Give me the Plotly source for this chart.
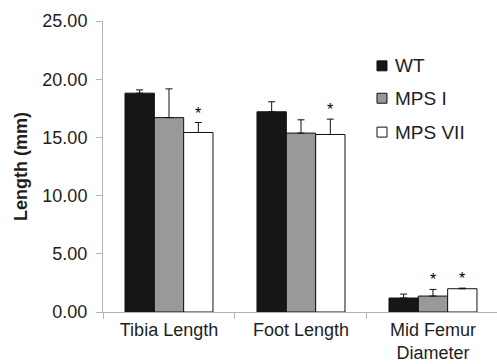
import plotly.graph_objects as go

categories = ["Tibia Length", "Foot Length", "Mid Femur<br>Diameter"]
groups = ["WT", "MPS I", "MPS VII"]
means = {
    "WT": [18.80, 17.20, 1.20],
    "MPS I": [16.70, 15.37, 1.37],
    "MPS VII": [15.42, 15.25, 2.00],
}
errors = {
    "WT": [0.28, 0.86, 0.34],
    "MPS I": [2.47, 1.14, 0.57],
    "MPS VII": [0.86, 1.32, 0.05],
}
# significance markers (group, category index)
significant = [("MPS VII", 0), ("MPS VII", 1), ("MPS I", 2), ("MPS VII", 2)]
y_ticks = [0, 5, 10, 15, 20, 25]

fills = {"WT": "#161616", "MPS I": "#999999", "MPS VII": "#ffffff"}
FONT = "Liberation Sans, Arial, sans-serif"
TEXT = "#1e1e1e"
AXIS_GREY = "#b4b4b4"
BARGAP = 1 / 3

fig = go.Figure()
for g in groups:
    fig.add_trace(go.Bar(
        name=g, x=categories, y=means[g], showlegend=False,
        marker=dict(color=fills[g], line=dict(color="#111111", width=1)),
        error_y=dict(type="data", symmetric=False, array=errors[g],
                     arrayminus=[0] * len(errors[g]), visible=True,
                     color="#111111", thickness=1, width=3.5),
    ))

# asterisks above the flagged bars
bar_w = (1 - BARGAP) / len(groups)
for g, ci in significant:
    gi = groups.index(g)
    xpos = ci + (gi - (len(groups) - 1) / 2) * bar_w
    fig.add_annotation(
        x=xpos, y=means[g][ci] + errors[g][ci], xref="x", yref="y",
        text="*", showarrow=False, yanchor="bottom", yshift=-1,
        font=dict(family=FONT, size=16, color="#000000"),
    )

# legend: small outlined squares with labels, stacked top-down
leg_x0, leg_x1, leg_tx = 0.6954, 0.7208, 0.736
leg_y = [0.8459, 0.7346, 0.6182]
half = 0.0171
for g, yc in zip(groups, leg_y):
    fig.add_shape(type="rect", xref="paper", yref="paper",
                  x0=leg_x0, x1=leg_x1, y0=yc - half, y1=yc + half,
                  fillcolor=fills[g], line=dict(color="#111111", width=1))
    fig.add_annotation(x=leg_tx, y=yc, xref="paper", yref="paper",
                       text=g, showarrow=False, xanchor="left",
                       yanchor="middle",
                       font=dict(family=FONT, size=19, color=TEXT))

fig.update_layout(
    width=497, height=364,
    margin=dict(l=103, r=0, t=21, b=52),
    paper_bgcolor="white", plot_bgcolor="white",
    barmode="group", bargap=BARGAP, bargroupgap=0,
    font=dict(family=FONT, size=18, color=TEXT),
    showlegend=False,
)
fig.update_xaxes(
    type="category", range=[-0.5, 2.5 - 0.015], automargin=False,
    showline=True, linecolor=AXIS_GREY, linewidth=1,
    ticks="outside", tickson="boundaries", ticklen=6, tickcolor=AXIS_GREY,
    tickfont=dict(family=FONT, size=18, color=TEXT),
    ticklabelstandoff=1,
    showgrid=False, zeroline=False,
)
fig.update_yaxes(
    range=[0, 25], tickvals=y_ticks, tickformat=".2f", automargin=False,
    showline=True, linecolor=AXIS_GREY, linewidth=1,
    ticks="outside", ticklen=6, tickcolor=AXIS_GREY,
    tickfont=dict(family=FONT, size=18, color=TEXT),
    ticklabelstandoff=5,
    showgrid=False, zeroline=False,
    title=dict(text="<b>Length (mm)</b>", standoff=10,
               font=dict(family=FONT, size=18, color=TEXT)),
)

fig.write_html("out.html")
